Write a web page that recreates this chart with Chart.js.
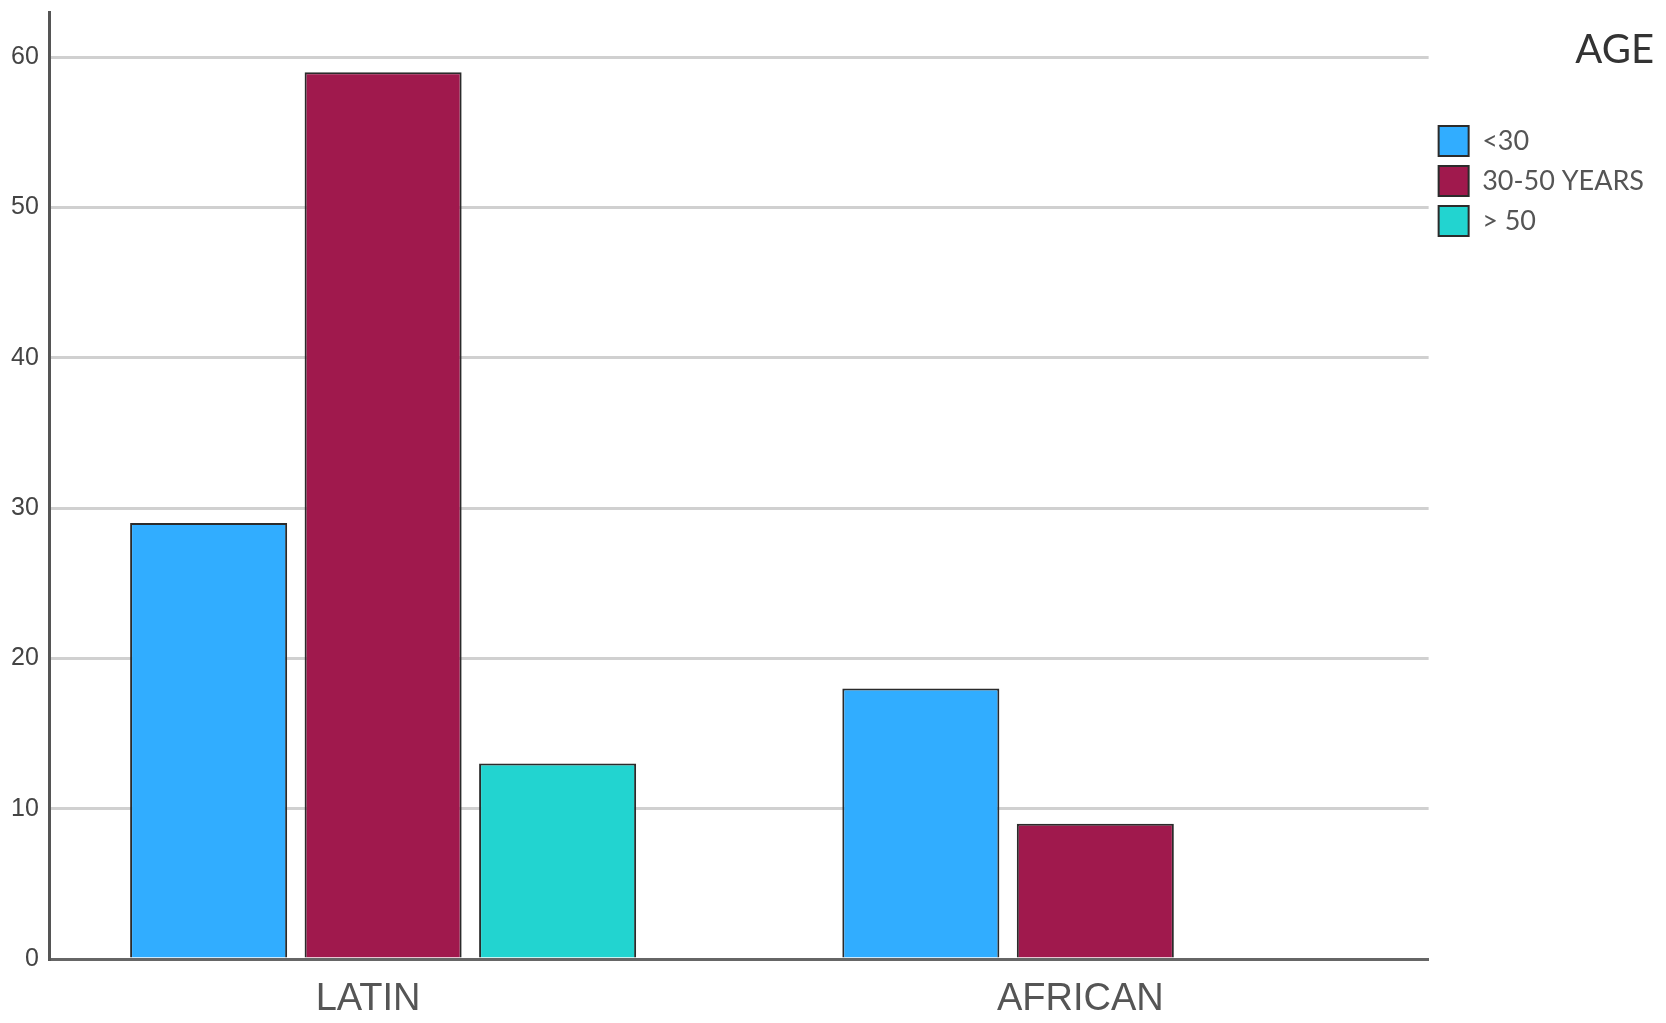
<!DOCTYPE html>
<html>
<head>
<meta charset="utf-8">
<title>AGE</title>
<script src="https://cdn.jsdelivr.net/npm/chart.js@4"></script>
<style>
  html, body { margin: 0; padding: 0; background: #fff; }
  #divId { width: 1666px; height: 1023px; }
</style>
</head>
<body>
<div id="divId"><canvas id="CanvaId"></canvas></div>
<script>
const categories = ["LATIN", "AFRICAN"];
const groupesAge = ["<30", "30-50 YEARS", "> 50"];
const valeursMoins30 = [29, 18];
const valeurs30a50 = [59, 9];
const valeursPlus50 = [13, null];
const ticksY = [0, 10, 20, 30, 40, 50, 60];

const couleurs = ["#31adff", "#a0194d", "#22d4d0"];
const series = [valeursMoins30, valeurs30a50, valeursPlus50];

function grapheAge() {
  const datasets = [];
  for (var i = 0; i < series.length; i++) {
    datasets.push({
      label: groupesAge[i],
      data: series[i],
      backgroundColor: couleurs[i],
      borderColor: "#2b2b2b",
      borderWidth: 2,
      barPercentage: 0.9,
      categoryPercentage: 0.735,
    });
  }

  const configuration = {
    type: "bar",
    data: {
      labels: categories,
      datasets: datasets,
    },
    options: {
      responsive: true,
      maintainAspectRatio: false,
      animation: false,
      layout: { padding: { top: 12, left: 0, bottom: 0, right: 12 } },
      plugins: {
        tooltip: { enabled: false },
        legend: {
          position: "right",
          align: "start",
          title: {
            display: true,
            text: "AGE",
            position: "end",
            color: "#333",
            font: { family: "Lato", size: 40 },
            padding: { top: 18, bottom: 38 },
          },
          labels: {
            boxWidth: 30,
            boxHeight: 30,
            padding: 10,
            color: "#555",
            font: { family: "Lato", size: 27 },
          },
        },
      },
      scales: {
        x: {
          grid: { display: false },
          border: { display: true, color: "#666", width: 3 },
          afterBuildTicks: function (axis) {
            // les groupes sont un peu plus ecartes que le centre des categories
            axis._startValue = -0.468;
            axis._valueRange = 1.936;
          },
          afterFit: function (axis) {
            axis.height = 64;
          },
          ticks: {
            color: "#555",
            padding: 14,
            labelOffset: -15,
            font: { family: "Liberation Sans", size: 38, lineHeight: 1 },
          },
        },
        y: {
          min: 0,
          max: 63,
          afterBuildTicks: function (axis) {
            axis.ticks = ticksY.map(function (v) { return { value: v }; });
          },
          afterFit: function (axis) {
            // le haut de l'axe va jusqu'au bord, pas de marge pour le label
            axis.paddingTop = 0;
          },
          grid: { color: "#d0d0d0", lineWidth: 3, drawTicks: false },
          border: { display: true, color: "#555", width: 3 },
          ticks: {
            color: "#444",
            padding: 11,
            font: { family: "Liberation Sans", size: 25 },
          },
        },
      },
    },
  };

  const graphique = document.getElementById("CanvaId");
  const chart = new Chart(graphique, configuration);
}

grapheAge();
</script>
</body>
</html>
